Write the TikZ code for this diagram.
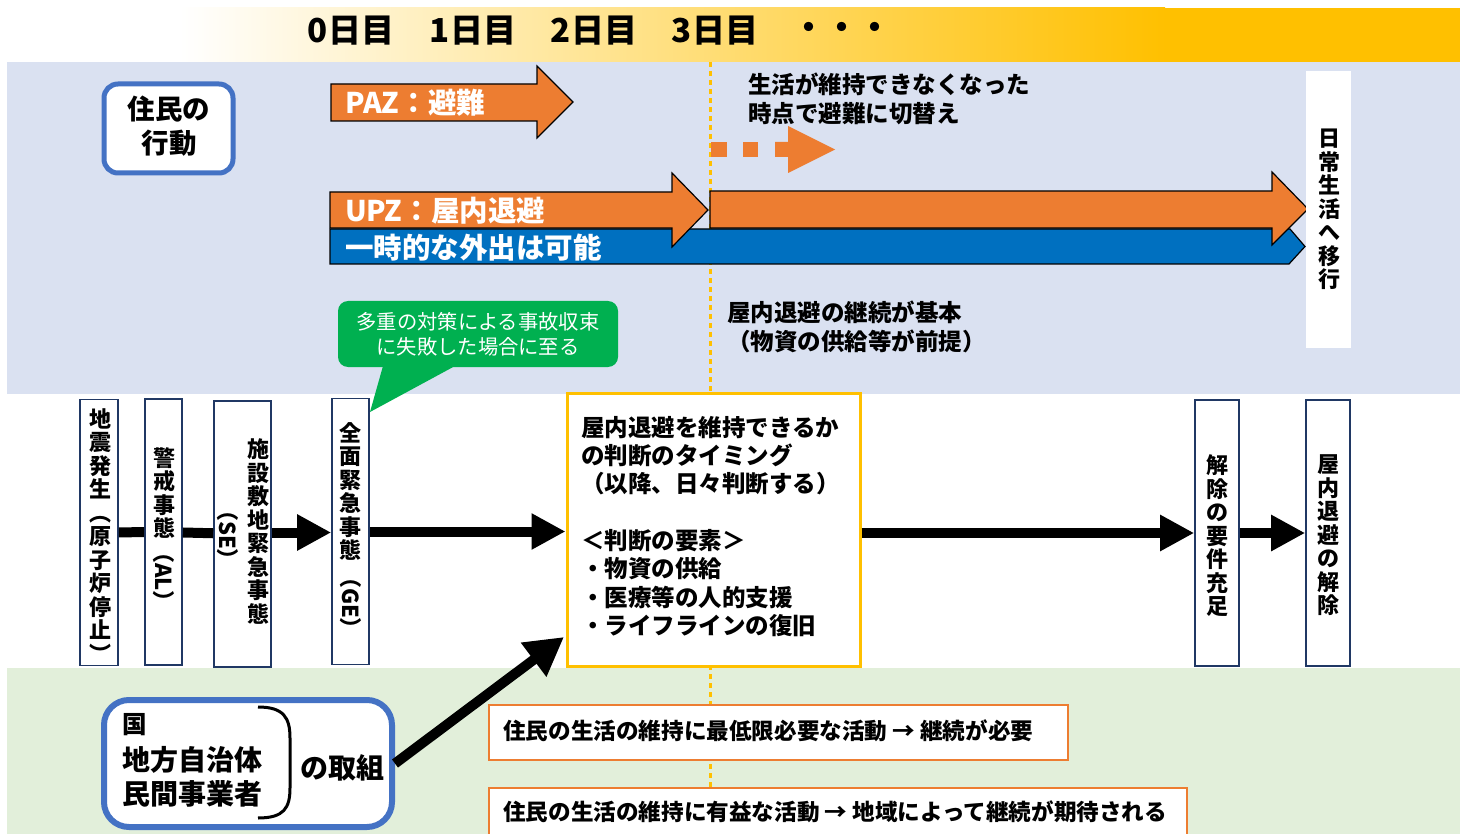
\documentclass[tikz,border=0pt]{standalone}
\usepackage{fontspec}
\usepackage{graphicx}
\setmainfont{Noto Sans CJK JP}
\usetikzlibrary{arrows.meta}
\definecolor{cOrange}{HTML}{ED7D31}
\definecolor{cBlue}{HTML}{0070C0}
\definecolor{cYellow}{HTML}{FFC000}
\definecolor{cGreen}{HTML}{00B050}
\definecolor{cBgBlue}{HTML}{DAE1F1}
\definecolor{cBgGreen}{HTML}{E2EFDA}
\definecolor{cNavy}{HTML}{203864}
\definecolor{cFrame}{HTML}{4472C4}
\tikzset{
  vbox/.style={draw=cNavy, line width=1.6pt, fill=white, minimum width=#1, minimum height=266pt, inner sep=0pt},
  vtext/.style={font=\bfseries\fontsize{22}{23.5}\selectfont, align=center, inner sep=0pt},
  rtext/.style={font=\bfseries\fontsize{22}{23.5}\selectfont, rotate=-90, inner sep=0pt},
  bigarrow/.style={line width=10pt, -{Triangle[length=34pt,width=34pt]}},
  bigline/.style={line width=10pt},
  blockarrow/.style={fill=cOrange, draw=black, line width=1.2pt},
  whitetxt/.style={text=white, font=\bfseries\fontsize{28.5}{30}\selectfont, inner sep=0pt, anchor=west},
  plaintxt/.style={font=\bfseries\fontsize{23.5}{28.3}\selectfont, inner sep=0pt, align=left},
  daytxt/.style={font=\bfseries\fontsize{33}{36}\selectfont, inner sep=0pt},
  roundframe/.style={draw=cFrame, fill=white, rounded corners=14pt},
  actbox/.style={draw=cOrange, line width=1.4pt, fill=white, inner sep=0pt},
  acttxt/.style={font=\bfseries\fontsize{22.6}{24}\selectfont, inner sep=0pt, anchor=west},
}
\begin{document}
\begin{tikzpicture}[x=1pt,y=-1pt]
\useasboundingbox (0,0) rectangle (1467,834);
% backgrounds
\fill[white] (0,0) rectangle (1467,834);
\shade[left color=white, right color=cYellow] (180,8) rectangle (1165,62);
\fill[cYellow] (1164,8) rectangle (1460,62);
\fill[cBgBlue] (7,62) rectangle (1460,394);
\fill[cBgGreen] (7,668) rectangle (1460,834);
% dotted time line
\draw[cYellow, line width=3pt, dash pattern=on 5pt off 4pt] (710,62) -- (710,834);

% day labels
\node[daytxt] (d0) at (351,31) {0日目};
\node[daytxt] (d1) at (473,31) {1日目};
\node[daytxt] (d2) at (594,31) {2日目};
\node[daytxt] (d3) at (715,31) {3日目};
\node[daytxt] (dd) at (842,31) {・・・};

% residents' action
\node[roundframe, line width=5pt, minimum width=129pt, minimum height=89pt] (act) at (168.5,128.5) {};
\node[font=\bfseries\fontsize{27.5}{34}\selectfont, align=center, inner sep=0pt] (actt) at (169,126) {住民の\\行動};

% PAZ arrow
\path[blockarrow] (331,84) -- (537,84) -- (537,66) -- (573,102) -- (537,138) -- (537,121) -- (331,121) -- cycle;
\node[whitetxt] (paz) at (345,103) {PAZ：避難};

% dotted orange arrow
\fill[cOrange] (711,142) rectangle (727,157);
\fill[cOrange] (743,142) rectangle (758,157);
\fill[cOrange] (775,142) -- (788,142) -- (788,126) -- (835,149.5) -- (788,173) -- (788,157) -- (775,157) -- cycle;
\node[plaintxt, anchor=west] (switch) at (748,99) {生活が維持できなくなった\\時点で避難に切替え};

% blue bar
\path[fill=cBlue, draw=black, line width=1.2pt] (330,229) -- (1290,229) -- (1305,246.5) -- (1289,264) -- (330,264) -- cycle;
% UPZ arrows
\path[blockarrow] (330,192) -- (672,192) -- (672,173) -- (708,210) -- (672,247) -- (672,228) -- (330,228) -- cycle;
\path[blockarrow] (710,191) -- (1272,191) -- (1272,172) -- (1308,209) -- (1272,245) -- (1272,228) -- (710,228) -- cycle;
\node[whitetxt] (upz) at (345,211) {UPZ：屋内退避};
\node[whitetxt] (out) at (345,248) {一時的な外出は可能};

% daily life box
\node[fill=white, minimum width=45pt, minimum height=277pt, inner sep=0pt] (daily) at (1328.5,209.5) {};
\node[vtext] (dailyt) at (1329,209.5) {日\\常\\生\\活\\へ\\移\\行};

% continuation text
\node[plaintxt, anchor=west] (cont) at (727,327) {屋内退避の継続が基本\\（物資の供給等が前提）};

% green callout
\fill[cGreen] (383,366) -- (370,412) -- (455,366) -- cycle;
\node[fill=cGreen, rounded corners=10pt, minimum width=280pt, minimum height=66pt, inner sep=0pt,
  font=\fontsize{20.3}{25}\selectfont, text=white, align=center] (call) at (478,334) {多重の対策による事故収束\\に失敗した場合に至る};

% vertical stage boxes
\node[vbox=38pt] (b1) at (99,532.5) {};
\node[vbox=37pt] (b2) at (163.5,532) {};
\node[vbox=57pt] (b3) at (242.5,534) {};
\node[vbox=37pt] (b4) at (350.5,531.5) {};
\node[vbox=44pt] (b5) at (1217,533) {};
\node[vbox=44pt] (b6) at (1328,533) {};
\node[vtext] (b1t) at (100,535.5) {地\\震\\発\\生\\︵\\原\\子\\炉\\停\\止\\︶};
\node[vtext] (b2t) at (164,493) {警\\戒\\事\\態};
\node[rtext] (b2r) at (164,577) {（AL）};
\node[vtext] (b3t) at (258,531.5) {施\\設\\敷\\地\\緊\\急\\事\\態};
\node[rtext] (b3r) at (228,535) {（SE）};
\node[vtext] (b4t) at (350.5,491.5) {全\\面\\緊\\急\\事\\態};
\node[rtext] (b4r) at (350.5,603) {（GE）};
\node[vtext] (b5t) at (1217,536) {解\\除\\の\\要\\件\\充\\足};
\node[vtext] (b6t) at (1328,535.5) {屋\\内\\退\\避\\の\\解\\除};

% judgement box
\node[draw=cYellow, line width=3pt, fill=white, minimum width=293pt, minimum height=273pt, inner sep=0pt] (judge) at (713.5,529.5) {};
\node[plaintxt, anchor=north west] (judget) at (581,416) {屋内退避を維持できるか\\の判断のタイミング\\（以降、日々判断する）\\[28.3pt]＜判断の要素＞\\・物資の供給\\・医療等の人的支援\\・ライフラインの復旧};

% connectors
\draw[bigline] (b1) -- (b2);
\draw[bigline] (b2) -- (b3);
\draw[bigarrow] (b3.east |- b1) -- (b4.west |- b1);
\draw[bigarrow] (b4.east) -- (judge.west |- b4.east);
\draw[bigarrow] (judge.east |- b5) -- (b5.west);
\draw[bigarrow] (b5) -- (b6);

% actors box
\node[roundframe, line width=6pt, rounded corners=25pt, minimum width=288pt, minimum height=127pt] (kuni) at (248,763.5) {};
\node[font=\bfseries\fontsize{24.5}{26}\selectfont, anchor=west, inner sep=0pt] (kunit) at (122,725) {国};
\node[font=\bfseries\fontsize{28}{34.5}\selectfont, anchor=west, inner sep=0pt, align=left] (local) at (122,777) {地方自治体\\民間事業者};
\draw[line width=3pt] (258,707) .. controls (284,707) and (290,718) .. (290,738) -- (290,788) .. controls (290,808) and (284,818) .. (258,818);
\node[font=\bfseries\fontsize{28}{30}\selectfont, anchor=west, inner sep=0pt] (torikumi) at (300,768) {の取組};
\coordinate (jin) at (564,637);
\draw[line width=10pt, -{Triangle[length=38pt,width=40pt]}] (kuni.east) -- (jin);

% activity boxes
\node[actbox, minimum width=579pt, minimum height=55pt] (act1) at (778.5,732.5) {};
\node[acttxt] (act1t) at (503,731) {住民の生活の維持に最低限必要な活動 → 継続が必要};
\node[actbox, minimum width=698pt, minimum height=60pt] (act2) at (838,818) {};
\node[acttxt] (act2t) at (503,812) {住民の生活の維持に有益な活動 → 地域によって継続が期待される};
\end{tikzpicture}
\end{document}
